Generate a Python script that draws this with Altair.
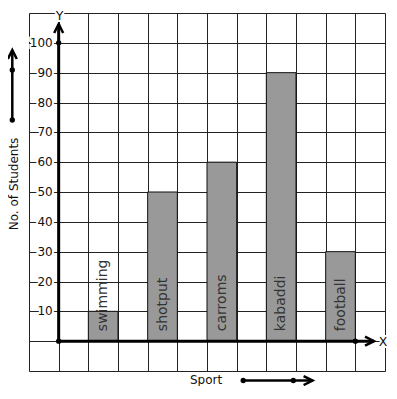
import altair as alt
import pandas as pd

# ---- data ----
sports = ["swimming", "shotput", "carroms", "kabaddi", "football"]
students = [10, 50, 60, 90, 30]
y_ticks = [10, 20, 30, 40, 50, 60, 70, 80, 90, 100]
x_grid = list(range(-1, 12))
y_grid = list(range(-10, 111, 10))

FONT = "DejaVu Sans"

xs = alt.Scale(domain=[-1, 11], nice=False, zero=False)
ys = alt.Scale(domain=[-10, 110], nice=False, zero=False)
ax_x = alt.Axis(values=x_grid, grid=True, gridColor="#222", gridOpacity=1, gridWidth=1,
                labels=False, ticks=False, domain=False, title=None)
ax_y = alt.Axis(values=y_grid, grid=True, gridColor="#222", gridOpacity=1, gridWidth=1,
                labels=False, ticks=False, domain=False, title=None)


def X(f):
    return alt.X(f, scale=xs, axis=ax_x)


def Y(f):
    return alt.Y(f, scale=ys, axis=ax_y)


bars_df = pd.DataFrame({
    "sport": sports,
    "students": students,
    "x0": [2 * i + 1 for i in range(len(sports))],
    "x1": [2 * i + 2 for i in range(len(sports))],
    "xc": [2 * i + 1.5 for i in range(len(sports))],
    "base": [0] * len(sports),
})

bars = alt.Chart(bars_df).mark_rect(color="#999999", stroke="#111", strokeWidth=1).encode(
    x=X("x0:Q"), x2="x1:Q", y=Y("students:Q"), y2="base:Q",
)

bar_labels = alt.Chart(bars_df).mark_text(
    angle=270, align="left", baseline="middle", dx=10, font=FONT, fontSize=14, color="#333"
).encode(x=X("xc:Q"), y=Y("base:Q"), text="sport:N")

# tick labels with white halo
tick_df = pd.DataFrame({"v": y_ticks, "x": [-0.2] * len(y_ticks), "t": [str(v) for v in y_ticks]})
tick_halo = alt.Chart(tick_df).mark_text(
    align="right", baseline="middle", font=FONT, fontSize=12, color="white",
    stroke="white", strokeWidth=4
).encode(x=X("x:Q"), y=Y("v:Q"), text="t:N")
tick_text = alt.Chart(tick_df).mark_text(
    align="right", baseline="middle", font=FONT, fontSize=12, color="#111"
).encode(x=X("x:Q"), y=Y("v:Q"), text="t:N")

# axis lines
ax_lines = pd.DataFrame({"x": [0, 0], "x2": [0, 10.63], "y": [0, 0], "y2": [106.3, 0]})
axis_rules = alt.Chart(ax_lines).mark_rule(color="black", strokeWidth=3).encode(
    x=X("x:Q"), x2="x2:Q", y=Y("y:Q"), y2="y2:Q",
)

# decorative arrows next to the axis titles
deco_lines = pd.DataFrame({"x": [-1.563, 6.22], "x2": [-1.563, 8.56],
                           "y": [74.13, -13.19], "y2": [97.6, -13.19]})
deco_rules = alt.Chart(deco_lines).mark_rule(color="black", strokeWidth=2.5).encode(
    x=X("x:Q"), x2="x2:Q", y=Y("y:Q"), y2="y2:Q",
)

dots_df = pd.DataFrame({"x": [0, 0, 10, -1.563, -1.563, 6.22, 7.91],
                        "y": [0, 100, 0, 90.9, 74.13, -13.19, -13.19]})
dots = alt.Chart(dots_df).mark_circle(color="black", opacity=1, size=28).encode(
    x=X("x:Q"), y=Y("y:Q"))

up_df = pd.DataFrame({"x": [0, -1.563], "y": [106.3, 97.6]})
up_heads = alt.Chart(up_df).mark_point(
    shape="M-1,2L0,0L1,2", filled=False, color="black", strokeWidth=2.5, size=81, opacity=1
).encode(x=X("x:Q"), y=Y("y:Q"))

right_df = pd.DataFrame({"x": [10.63, 8.56], "y": [0, -13.19]})
right_heads = alt.Chart(right_df).mark_point(
    shape="M-2,-1L0,0L-2,1", filled=False, color="black", strokeWidth=2.5, size=81, opacity=1
).encode(x=X("x:Q"), y=Y("y:Q"))

# axis letters with halo
letters_df = pd.DataFrame({"x": [0.03, 10.93], "y": [107.82, -1.68], "t": ["Y", "X"]})
letter_halo = alt.Chart(letters_df).mark_text(
    align="center", baseline="alphabetic", font=FONT, fontSize=12.5, color="white",
    stroke="white", strokeWidth=4
).encode(x=X("x:Q"), y=Y("y:Q"), text="t:N")
letter_text = alt.Chart(letters_df).mark_text(
    align="center", baseline="alphabetic", font=FONT, fontSize=12.5, color="#111"
).encode(x=X("x:Q"), y=Y("y:Q"), text="t:N")

# axis titles
title_x_df = pd.DataFrame({"x": [4.97], "y": [-14.19], "t": ["Sport"]})
title_x = alt.Chart(title_x_df).mark_text(
    align="center", baseline="alphabetic", font=FONT, fontSize=12, color="#111"
).encode(x=X("x:Q"), y=Y("y:Q"), text="t:N")

title_y_df = pd.DataFrame({"x": [-1.506], "y": [52.7], "t": ["No. of Students"]})
title_y = alt.Chart(title_y_df).mark_text(
    align="center", baseline="middle", angle=270, font=FONT, fontSize=12, color="#111"
).encode(x=X("x:Q"), y=Y("y:Q"), text="t:N")

chart = alt.layer(
    bars, bar_labels, axis_rules, tick_halo, tick_text, deco_rules, dots,
    up_heads, right_heads, letter_halo, letter_text, title_x, title_y
).properties(
    width=356, height=358,
    autosize=alt.AutoSizeParams(type="none"),
    padding={"left": 21, "top": 5, "right": 4, "bottom": 15},
).configure_view(stroke=None).configure(background="white")

chart.save("out.html", embed_options={"renderer": "svg", "actions": False})
